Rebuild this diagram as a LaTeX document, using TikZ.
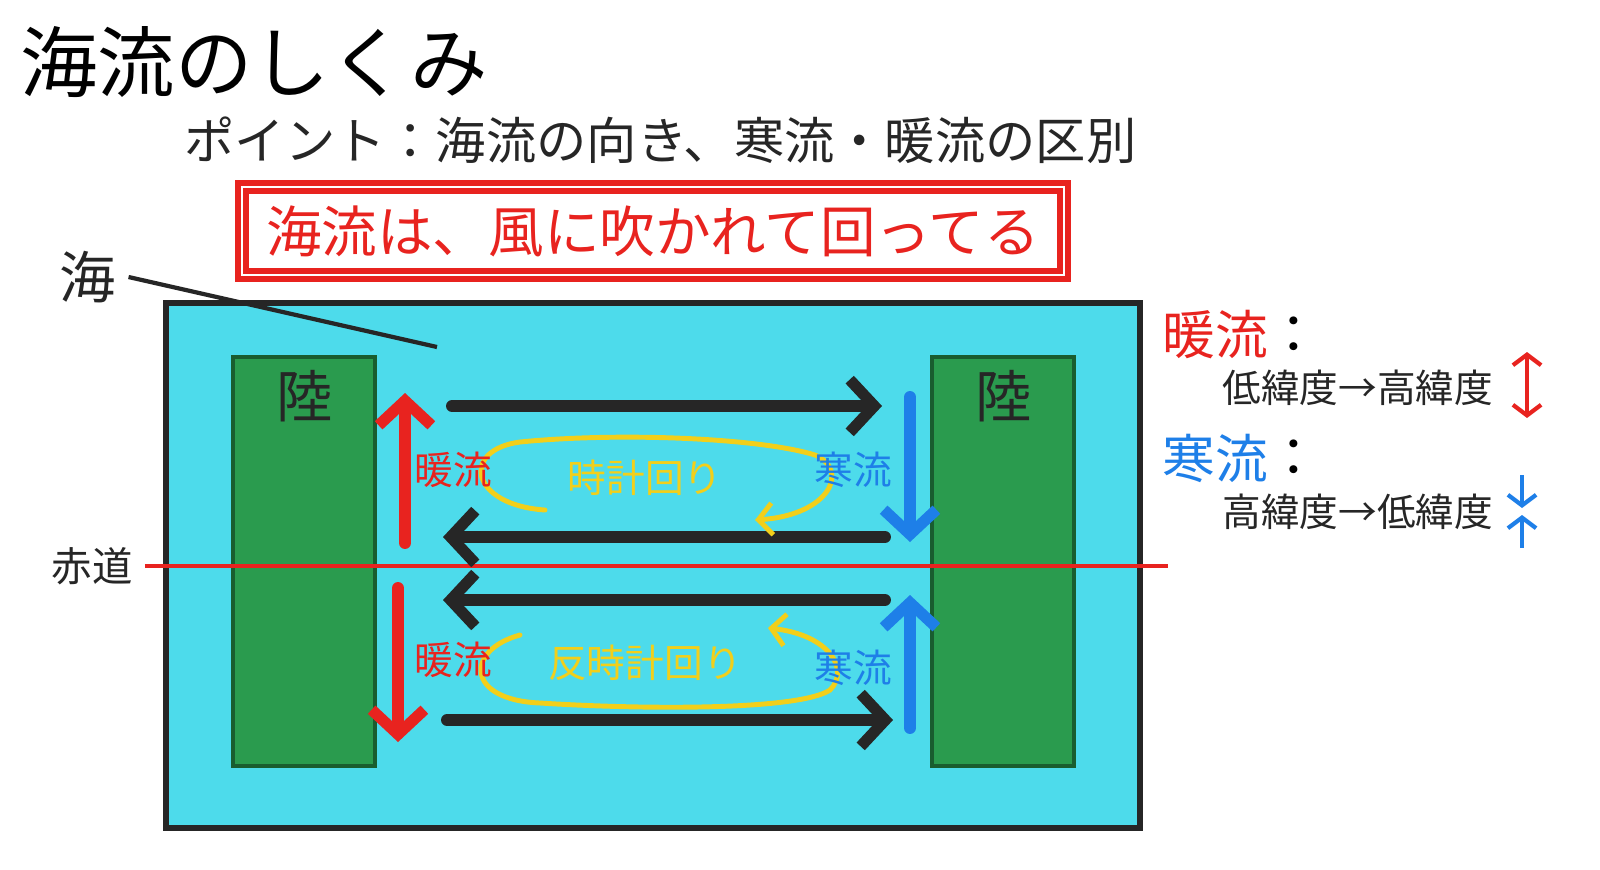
\documentclass[tikz,border=0pt]{standalone}
\usepackage{fontspec}
\setmainfont{Noto Sans CJK JP}
\usetikzlibrary{arrows.meta}
\definecolor{sea}{HTML}{4DDBEB}
\definecolor{land}{HTML}{2A9B4E}
\definecolor{warm}{HTML}{E8231F}
\definecolor{cold}{HTML}{1E7FE8}
\definecolor{yelw}{HTML}{F2CF1A}
\definecolor{ink}{HTML}{262626}
\tikzset{
  flow/.style={line width=3.4pt,line cap=round,-{Straight Barb[length=7pt,width=15pt,line width=3.2pt]}},
  lbl/.style={font=\fontsize{11}{11}\selectfont},
}
\begin{document}
\begin{tikzpicture}[x=0.01cm,y=-0.01cm]
\node[anchor=west,font=\fontsize{22}{22}\selectfont] (title) at (8,62) {海流のしくみ};
\node[anchor=west,font=\fontsize{14.3}{14.3}\selectfont,text=ink] (point) at (172,140) {ポイント：海流の向き、寒流・暖流の区別};
\draw[warm,line width=1.5pt] (238,183) rectangle (1068,279);
\draw[warm,line width=1.5pt] (246,191) rectangle (1060,271);
\node[font=\fontsize{15.8}{15.8}\selectfont,text=warm] (rule) at (653,231) {海流は、風に吹かれて回ってる};
% sea and land
\draw[fill=sea,line width=1.5pt,draw=ink] (166,303) rectangle (1140,828);
\foreach \x in {233,932} {
  \draw[fill=land,line width=1pt,draw=land!60!black] (\x,357) rectangle (\x+142,766);
  \node[font=\fontsize{16}{16}\selectfont,text=ink] at (\x+72,396) {陸};
}
\node[font=\fontsize{16}{16}\selectfont,text=ink] (umi) at (88,277) {海};
\coordinate (umiend) at (437,347);
\draw[ink,line width=1.2pt] (umi.east) -- (umiend);
\node[font=\fontsize{11.5}{11.5}\selectfont,text=ink] (eq) at (92,566) {赤道};
\coordinate (eqend) at (1168,566);
\draw[warm,line width=1.2pt] (eq.east) -- (eqend);
% currents
\draw[flow,ink] (452,406) -- (882,406);
\draw[flow,ink] (885,537) -- (443,537);
\draw[flow,ink] (885,600) -- (443,600);
\draw[flow,ink] (447,720) -- (893,720);
\draw[flow,warm] (405,543) -- (405,393);
\draw[flow,warm] (398,588) -- (398,742);
\draw[flow,cold] (910,397) -- (910,542);
\draw[flow,cold] (910,728) -- (910,595);
% loops
\draw[yelw,line width=1.4pt,line cap=round,-{Straight Barb[length=4pt,width=9pt,line width=1.4pt]}]
  (545,510) .. controls (470,505) and (460,450) .. (520,442)
  .. controls (620,432) and (760,438) .. (815,455)
  .. controls (850,470) and (830,515) .. (755,520);
\draw[yelw,line width=1.4pt,line cap=round,-{Straight Barb[length=4pt,width=9pt,line width=1.4pt]}]
  (520,635) .. controls (465,650) and (465,700) .. (540,703)
  .. controls (650,710) and (800,710) .. (830,690)
  .. controls (850,670) and (830,635) .. (768,628);
\node[lbl,text=warm] at (453,470) {暖流};
\node[lbl,text=warm] at (453,660) {暖流};
\node[lbl,text=cold] at (853,470) {寒流};
\node[lbl,text=cold] at (853,668) {寒流};
\node[lbl,text=yelw] at (645,478) {時計回り};
\node[lbl,text=yelw] at (645,663) {反時計回り};
% legend
\node[anchor=west,font=\fontsize{15}{15}\selectfont,text=warm] (warmkey) at (1150,335) {暖流};
\node[anchor=west,font=\fontsize{15}{15}\selectfont] at (1255,335) {：};
\node[anchor=west,lbl,text=ink] (warmtxt) at (1210,388) {低緯度→高緯度};
\node[anchor=west,font=\fontsize{15}{15}\selectfont,text=cold] (coldkey) at (1150,458) {寒流};
\node[anchor=west,font=\fontsize{15}{15}\selectfont] at (1255,458) {：};
\node[anchor=west,lbl,text=ink] (coldtxt) at (1210,512) {高緯度→低緯度};
\coordinate (wm) at (1527,385);
\draw[warm,line width=1.2pt,-{Straight Barb[length=3pt,width=8pt,line width=1.2pt]}] (wm) -- ++(0,-33);
\draw[warm,line width=1.2pt,-{Straight Barb[length=3pt,width=8pt,line width=1.2pt]}] (wm) -- ++(0,33);
\draw[cold,line width=1.2pt,-{Straight Barb[length=3pt,width=8pt,line width=1.2pt]}] (1522,475) -- (1522,508);
\draw[cold,line width=1.2pt,-{Straight Barb[length=3pt,width=8pt,line width=1.2pt]}] (1522,548) -- (1522,515);
\pgfresetboundingbox
\useasboundingbox (0,0) rectangle (1600,869);
\end{tikzpicture}
\end{document}
